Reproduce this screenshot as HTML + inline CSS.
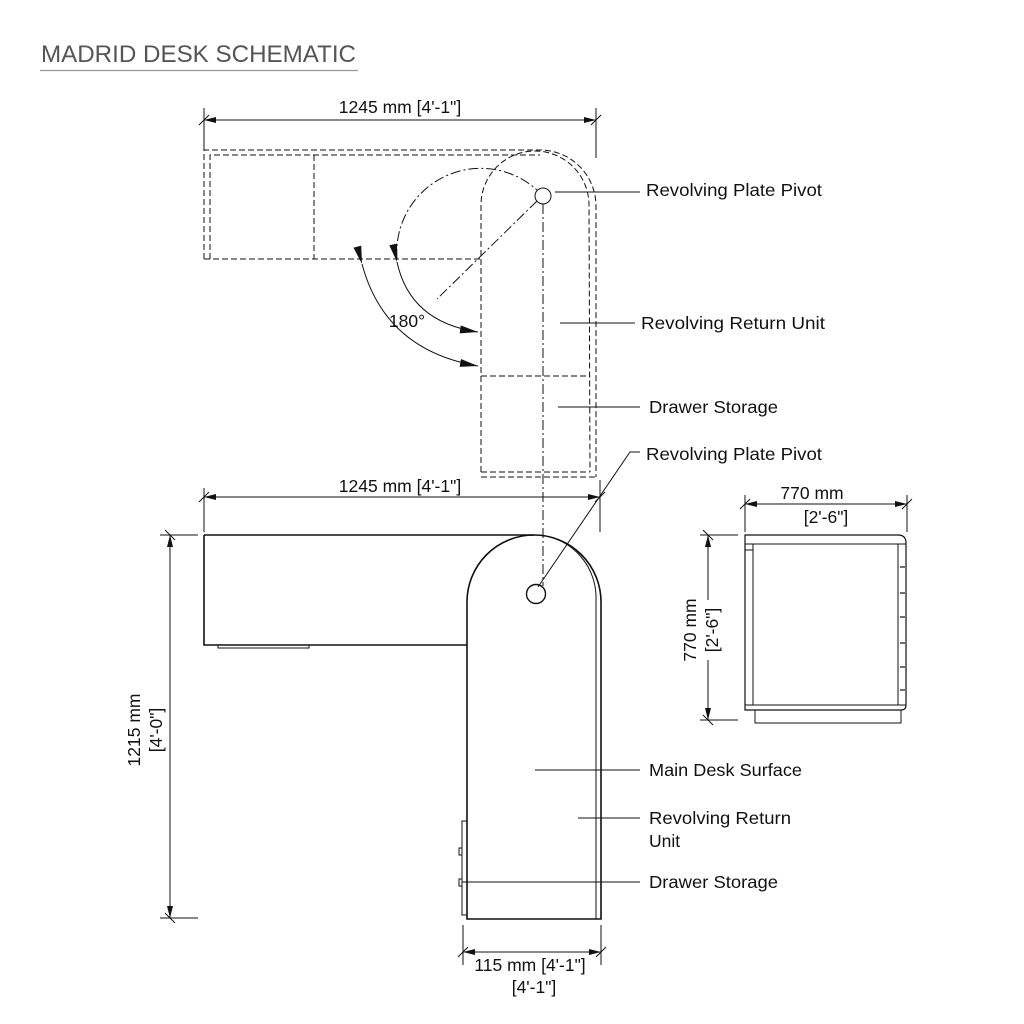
<!DOCTYPE html>
<html><head><meta charset="utf-8"><style>
html,body{margin:0;padding:0;background:#fff;}
svg{display:block}
.l{font-family:"Liberation Sans",sans-serif;font-size:17.5px;fill:#111;}
.d{font-family:"Liberation Sans",sans-serif;font-size:17.5px;fill:#111;}
</style></head><body>
<svg width="1024" height="1024" viewBox="0 0 1024 1024" xmlns="http://www.w3.org/2000/svg">
<defs>
<marker id="a" viewBox="0 0 12 6" refX="12" refY="3" markerWidth="12" markerHeight="6" orient="auto-start-reverse" markerUnits="userSpaceOnUse"><path d="M0,0 L12,3 L0,6z" fill="#111"/></marker>
<marker id="b" viewBox="0 0 18 8" refX="18" refY="4" markerWidth="18" markerHeight="8" orient="auto" markerUnits="userSpaceOnUse"><path d="M0,0 L18,4 L0,8z" fill="#111"/></marker>
</defs>
<rect width="1024" height="1024" fill="#fff"/>
<text x="41" y="62" font-family="Liberation Sans,sans-serif" font-size="24" fill="#555" textLength="315" lengthAdjust="spacingAndGlyphs">MADRID DESK SCHEMATIC</text>
<line x1="40" y1="70.5" x2="358" y2="70.5" stroke="#999" stroke-width="1.2"/>

<g stroke="#111" fill="none" stroke-width="1">
<line x1="204" y1="108" x2="204" y2="150"/>
<line x1="596" y1="108" x2="596" y2="158"/>
<line x1="204" y1="120" x2="596" y2="120" marker-start="url(#a)" marker-end="url(#a)"/>
<line x1="199" y1="125" x2="209" y2="115"/><line x1="591" y1="125" x2="601" y2="115"/>

<g stroke-dasharray="6,3">
<path d="M204,259 L204,150 L540,150 A56,56 0 0 1 596,206 L596,477"/>
<path d="M210,259 L210,155 L540,155"/>
<line x1="314" y1="155" x2="314" y2="259"/>
<line x1="204" y1="259" x2="481" y2="259"/>
<path d="M481,472 L481,205 A54,54 0 0 1 589,205 L590,472"/>
<line x1="481" y1="477" x2="596" y2="477"/>
<line x1="481" y1="472" x2="590" y2="472"/>
<line x1="481" y1="376" x2="590" y2="376"/>
</g>
<g stroke-dasharray="10,3,2,3">
<line x1="537" y1="201" x2="437" y2="299"/>
<path d="M397,259 A84,84 0 0 1 537,190"/>
</g>
<circle cx="543" cy="196" r="8"/>
<path d="M362,264 Q385,350 478,366" marker-start="url(#b)" marker-end="url(#b)"/>
<path d="M397,262 Q410,322 478,332" marker-start="url(#b)" marker-end="url(#b)"/>

<line x1="555" y1="192" x2="640" y2="192"/>
<line x1="560" y1="323" x2="635" y2="323"/>
<line x1="558" y1="407" x2="640" y2="407"/>

<line x1="204" y1="488" x2="204" y2="532"/>
<line x1="600" y1="480" x2="600" y2="532"/>
<line x1="204" y1="497" x2="600" y2="497" marker-start="url(#a)" marker-end="url(#a)"/>
<line x1="199" y1="502" x2="209" y2="492"/><line x1="595" y1="502" x2="605" y2="492"/>

<g stroke-width="1.6">
<path d="M204,535 L204,645 L467,645"/>
<path d="M467,919 L467,602 A67,67 0 0 1 534,535 A67,67 0 0 1 601,602 L601,919 Z" fill="#fff"/>
<line x1="204" y1="535" x2="534" y2="535"/>
</g>
<path d="M540,535 A63,63 0 0 1 596,600 L596,919" />
<rect x="218" y="645" width="91" height="3"/>
<line x1="543" y1="204" x2="543" y2="586" stroke-dasharray="10,3,2,3"/>
<circle cx="536" cy="594" r="9.5" stroke-width="1.4"/>
<polyline points="538,587 630,452 640,452"/>
<rect x="462" y="821" width="5" height="94"/>
<rect x="459" y="848" width="3" height="7"/>
<rect x="459" y="879" width="3" height="7"/>

<line x1="160" y1="535" x2="198" y2="535"/>
<line x1="160" y1="918" x2="198" y2="918"/>
<line x1="170" y1="535" x2="170" y2="918" marker-start="url(#a)" marker-end="url(#a)"/>
<line x1="165" y1="530" x2="175" y2="540"/><line x1="165" y1="913" x2="175" y2="923"/>

<line x1="463" y1="925" x2="463" y2="965"/>
<line x1="601" y1="925" x2="601" y2="965"/>
<line x1="463" y1="952" x2="601" y2="952" marker-start="url(#a)" marker-end="url(#a)"/>
<line x1="458" y1="957" x2="468" y2="947"/><line x1="596" y1="957" x2="606" y2="947"/>

<line x1="535" y1="770" x2="640" y2="770"/>
<line x1="578" y1="818" x2="640" y2="818"/>
<line x1="462" y1="882" x2="640" y2="882"/>

<line x1="745" y1="495" x2="745" y2="532"/>
<line x1="907" y1="495" x2="907" y2="532"/>
<line x1="745" y1="504" x2="907" y2="504" marker-start="url(#a)" marker-end="url(#a)"/>
<line x1="740" y1="509" x2="750" y2="499"/><line x1="902" y1="509" x2="912" y2="499"/>
<path d="M745,710 L745,535 L898,535 Q906,535 906,543 L906,705 Q906,710 901,710 Z" stroke-width="1.2"/>
<line x1="745" y1="544" x2="906" y2="544"/>
<rect x="753" y="544" width="145" height="161"/>
<line x1="745" y1="705" x2="906" y2="705"/>
<rect x="755" y="710" width="146" height="13"/>
<line x1="745" y1="550" x2="753" y2="550"/>
<g stroke-width="1.2">
<line x1="900" y1="567" x2="905" y2="567"/><line x1="900" y1="593" x2="905" y2="593"/>
<line x1="900" y1="617" x2="905" y2="617"/><line x1="900" y1="643" x2="905" y2="643"/>
<line x1="900" y1="667" x2="905" y2="667"/><line x1="900" y1="690" x2="905" y2="690"/>
</g>
<line x1="700" y1="535" x2="738" y2="535"/>
<line x1="700" y1="720" x2="738" y2="720"/>
<line x1="708" y1="535" x2="708" y2="600"/>
<line x1="708" y1="660" x2="708" y2="720"/>
<line x1="708" y1="535" x2="708" y2="545" marker-start="url(#a)"/>
<line x1="708" y1="710" x2="708" y2="720" marker-end="url(#a)"/>
<line x1="703" y1="530" x2="713" y2="540"/><line x1="703" y1="715" x2="713" y2="725"/>
</g>

<text class="d" x="400" y="113" text-anchor="middle">1245 mm [4'-1"]</text>
<text class="d" x="400" y="492" text-anchor="middle">1245 mm [4'-1"]</text>
<text class="d" x="407" y="327" text-anchor="middle" font-size="15">180°</text>
<text class="d" x="530" y="971" text-anchor="middle">115 mm [4'-1"]</text>
<text class="d" x="534" y="993" text-anchor="middle">[4'-1"]</text>
<text class="d" x="812" y="499" text-anchor="middle">770 mm</text>
<text class="d" x="826" y="523" text-anchor="middle">[2'-6"]</text>
<text class="d" transform="translate(140,730) rotate(-90)" text-anchor="middle">1215 mm</text>
<text class="d" transform="translate(162,730) rotate(-90)" text-anchor="middle">[4'-0"]</text>
<text class="d" transform="translate(696,630) rotate(-90)" text-anchor="middle">770 mm</text>
<text class="d" transform="translate(718,630) rotate(-90)" text-anchor="middle">[2'-6"]</text>

<text class="l" x="646" y="196" textLength="176" lengthAdjust="spacingAndGlyphs">Revolving Plate Pivot</text>
<text class="l" x="641" y="329" textLength="184" lengthAdjust="spacingAndGlyphs">Revolving Return Unit</text>
<text class="l" x="649" y="413" textLength="129" lengthAdjust="spacingAndGlyphs">Drawer Storage</text>
<text class="l" x="646" y="460" textLength="176" lengthAdjust="spacingAndGlyphs">Revolving Plate Pivot</text>
<text class="l" x="649" y="776" textLength="153" lengthAdjust="spacingAndGlyphs">Main Desk Surface</text>
<text class="l" x="649" y="824" textLength="142" lengthAdjust="spacingAndGlyphs">Revolving Return</text>
<text class="l" x="649" y="847">Unit</text>
<text class="l" x="649" y="888" textLength="129" lengthAdjust="spacingAndGlyphs">Drawer Storage</text>
</svg>
</body></html>
